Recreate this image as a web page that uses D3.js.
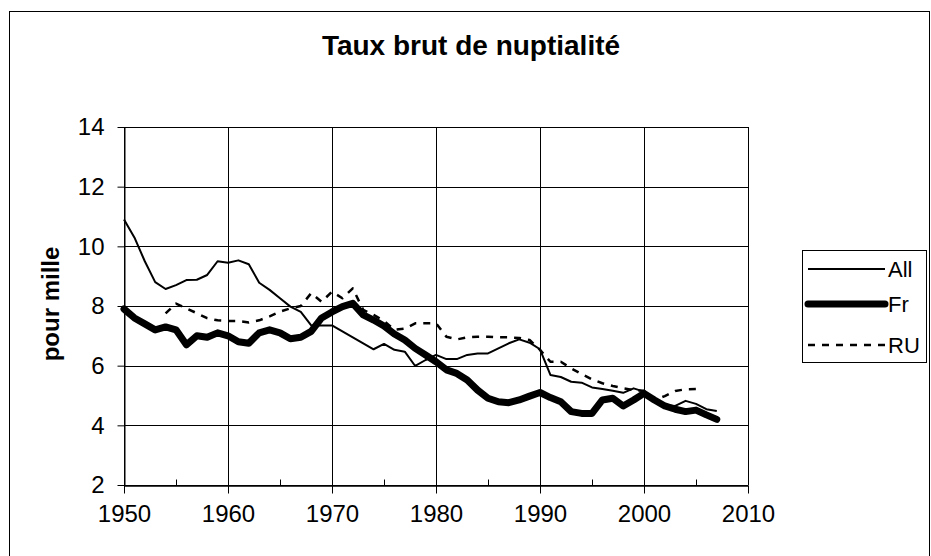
<!DOCTYPE html>
<html>
<head>
<meta charset="utf-8">
<script src="https://cdn.jsdelivr.net/npm/d3@7/dist/d3.min.js"></script>
<style>
  html, body { margin: 0; padding: 0; background: #fff; }
  svg { display: block; }
  text { font-family: "Liberation Sans", Arial, sans-serif; fill: #000; }
</style>
</head>
<body>
<svg id="chart" width="931" height="556"></svg>
<script>
const title = "Taux brut de nuptialité";
const yLabel = "pour mille";
const years = d3.range(1950, 2008);
const seriesNames = ["All", "Fr", "RU"];
const allValues = [10.9, 10.3, 9.5, 8.8, 8.57, 8.7, 8.87, 8.88, 9.04, 9.5,
  9.45, 9.53, 9.4, 8.78, 8.54, 8.26, 7.98, 7.8, 7.35, 7.35,
  7.35, 7.15, 6.95, 6.75, 6.55, 6.73, 6.53, 6.47, 5.99, 6.19,
  6.36, 6.22, 6.22, 6.36, 6.41, 6.41, 6.58, 6.75, 6.88, 6.77,
  6.55, 5.69, 5.62, 5.46, 5.43, 5.27, 5.22, 5.16, 5.09, 5.24,
  5.13, 4.85, 4.68, 4.65, 4.82, 4.72, 4.54, 4.48];
const frValues = [7.9, 7.6, 7.4, 7.2, 7.3, 7.2, 6.7, 7.0, 6.95, 7.1,
  7.0, 6.8, 6.75, 7.1, 7.2, 7.1, 6.9, 6.95, 7.15, 7.6,
  7.8, 7.98, 8.09, 7.7, 7.53, 7.33, 7.06, 6.86, 6.58, 6.36,
  6.13, 5.86, 5.74, 5.52, 5.18, 4.91, 4.79, 4.76, 4.85, 4.98,
  5.1, 4.93, 4.79, 4.46, 4.4, 4.4, 4.85, 4.91, 4.65, 4.85,
  5.07, 4.85, 4.65, 4.54, 4.46, 4.51, 4.35, 4.2];
const ruValues = [null, null, null, null, 7.75, 8.08, 7.92, 7.76, 7.59, 7.52,
  7.5, 7.5, 7.45, 7.52, 7.65, 7.81, 7.92, 8.0, 8.43, 8.14,
  8.48, 8.26, 8.59, 7.87, 7.7, 7.5, 7.2, 7.24, 7.42, 7.42,
  7.42, 6.97, 6.88, 6.95, 6.97, 6.97, 6.95, 6.95, 6.93, 6.86,
  6.53, 6.13, 6.13, 5.91, 5.72, 5.54, 5.41, 5.32, 5.24, 5.18,
  5.16, 4.85, 4.98, 5.15, 5.21, 5.22, null, null];
const xMajorTicks = [1950, 1960, 1970, 1980, 1990, 2000, 2010];
const xMinorTicks = [1955, 1965, 1975, 1985, 1995, 2005];
const yTicks = [2, 4, 6, 8, 10, 12, 14];

const styles = {
  All: { width: 2, dash: null },
  Fr: { width: 7, dash: null },
  RU: { width: 2.5, dash: "7,7" }
};
const valuesByName = { All: allValues, Fr: frValues, RU: ruValues };

const svg = d3.select("#chart");
const pLeft = 124, pRight = 748, pTop = 127, pBottom = 485;
const x = d3.scaleLinear().domain([1950, 2010]).range([pLeft, pRight]);
const y = d3.scaleLinear().domain([2, 14]).range([pBottom, pTop]);

// outer frame
svg.append("rect").attr("x", 9.5).attr("y", 11.5).attr("width", 920).attr("height", 560)
  .attr("fill", "#fff").attr("stroke", "#000").attr("stroke-width", 1);

// title
svg.append("text").attr("x", 471).attr("y", 55).attr("text-anchor", "middle")
  .attr("font-size", 28).attr("font-weight", "bold").text(title);

// gridlines
const grid = svg.append("g");
grid.selectAll(".hg").data(yTicks).join("line")
  .attr("x1", pLeft).attr("x2", pRight)
  .attr("y1", d => Math.round(y(d)) + 0.5).attr("y2", d => Math.round(y(d)) + 0.5)
  .attr("stroke", "#000").attr("stroke-width", 1);
grid.selectAll(".vg").data(xMajorTicks).join("line")
  .attr("y1", pTop).attr("y2", pBottom)
  .attr("x1", d => Math.round(x(d)) + 0.5).attr("x2", d => Math.round(x(d)) + 0.5)
  .attr("stroke", "#000").attr("stroke-width", 1);

// axes
const yAxis = d3.axisLeft(y).tickValues(yTicks).tickSize(7).tickSizeOuter(0).tickPadding(13);
const gy = svg.append("g").attr("transform", `translate(${pLeft + 0.5},0)`).call(yAxis);
gy.selectAll("text").attr("font-size", 24).attr("font-family", "Liberation Sans, Arial, sans-serif").attr("fill", "#000");
gy.selectAll("line, path").attr("stroke", "#000");

const xAxis = d3.axisBottom(x).tickValues(xMajorTicks).tickFormat(d3.format("d"))
  .tickSize(8).tickSizeOuter(0).tickPadding(11);
const gx = svg.append("g").attr("transform", `translate(0,${pBottom + 0.5})`).call(xAxis);
gx.selectAll("text").attr("font-size", 24).attr("font-family", "Liberation Sans, Arial, sans-serif").attr("fill", "#000");
gx.selectAll("line, path").attr("stroke", "#000");

const xMinor = d3.axisBottom(x).tickValues(xMinorTicks).tickSize(-6).tickSizeOuter(0).tickFormat("");
const gm = svg.append("g").attr("transform", `translate(0,${pBottom + 0.5})`).call(xMinor);
gm.selectAll("line, path").attr("stroke", "#000");

// y label
svg.append("text").attr("transform", "translate(59,304) rotate(-90)")
  .attr("text-anchor", "middle").attr("font-size", 24).attr("font-weight", "bold").text(yLabel);

// lines
const line = d3.line()
  .defined(d => d.v != null)
  .x(d => x(d.year)).y(d => y(d.v));

seriesNames.forEach(name => {
  const data = years.map((yr, i) => ({ year: yr, v: valuesByName[name][i] }));
  const s = styles[name];
  svg.append("path").datum(data)
    .attr("d", line)
    .attr("fill", "none").attr("stroke", "#000")
    .attr("stroke-width", s.width)
    .attr("stroke-linejoin", "round")
    .attr("stroke-linecap", name === "Fr" ? "round" : "butt")
    .attr("stroke-dasharray", s.dash);
});

// legend
const lg = svg.append("g");
lg.append("rect").attr("x", 802.5).attr("y", 250.5).attr("width", 124).attr("height", 112)
  .attr("fill", "#fff").attr("stroke", "#000").attr("stroke-width", 1);
const legendY = { All: 269, Fr: 304, RU: 345 };
seriesNames.forEach(name => {
  const s = styles[name];
  lg.append("line").attr("x1", 808).attr("x2", 885)
    .attr("y1", legendY[name]).attr("y2", legendY[name])
    .attr("stroke", "#000").attr("stroke-width", s.width)
    .attr("stroke-linecap", name === "Fr" ? "round" : "butt")
    .attr("stroke-dasharray", s.dash);
  lg.append("text").attr("x", 888).attr("y", legendY[name]).attr("dy", "0.36em")
    .attr("font-size", 22).text(name);
});
</script>
</body>
</html>
